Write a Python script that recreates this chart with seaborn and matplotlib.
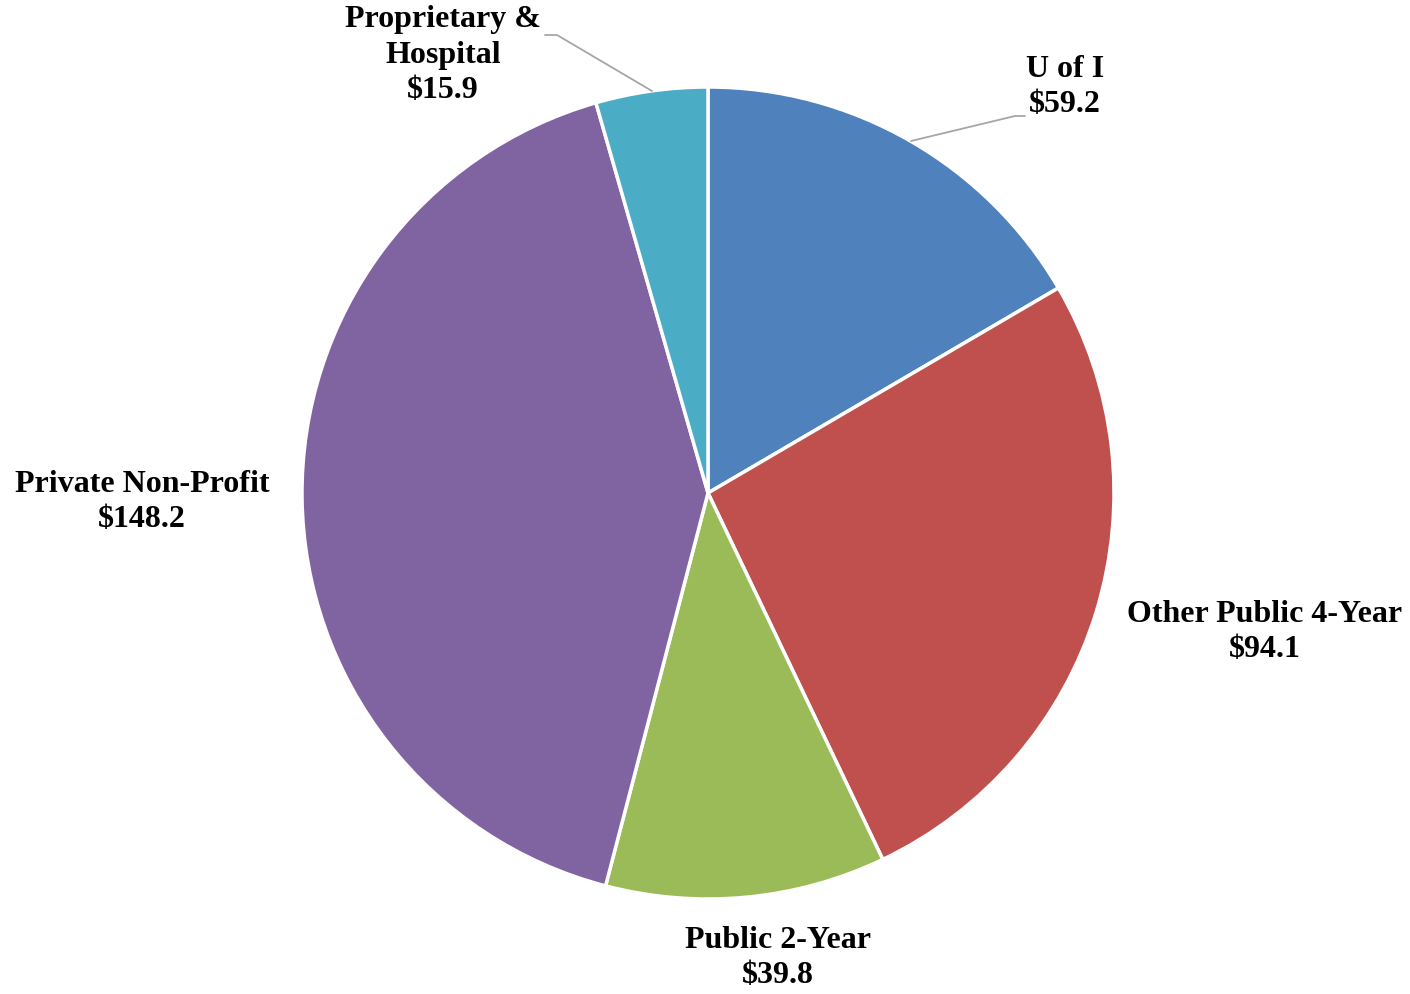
import matplotlib
matplotlib.use('Agg')
import matplotlib.pyplot as plt
import seaborn as sns
import numpy as np

# Data
categories = ['U of I', 'Other Public 4-Year', 'Public 2-Year', 'Private Non-Profit', 'Proprietary &\nHospital']
values = [59.2, 94.1, 39.8, 148.2, 15.9]
colors = ['#4F81BD', '#C0504D', '#9BBB59', '#8064A2', '#4BACC6']

sns.set_theme(style='white')
plt.rcParams['font.family'] = ['Liberation Serif', 'DejaVu Serif']

W, H = 1410, 994
fig = plt.figure(figsize=(W / 100, H / 100), dpi=100)
ax = fig.add_axes([0, 0, 1, 1])

cx, cy, r = 708, H - 493, 406
ax.pie(values, colors=colors, startangle=90, counterclock=False,
       center=(cx, cy), radius=r, frame=True,
       wedgeprops=dict(edgecolor='white', linewidth=2.5))
ax.set_xlim(0, W)
ax.set_ylim(0, H)
ax.set_aspect('equal')
ax.axis('off')

# label positions in pixel space (x, y from top)
label_pos = [(1065, 87), (1265, 632), (778, 958), (142, 502), (443, 55)]
for name, val, (lx, ly) in zip(categories, values, label_pos):
    ax.text(lx, H - ly, f'{name}\n${val:.1f}', ha='center', va='center',
            fontsize=23, fontweight='bold', color='black', linespacing=1.3)

# leader lines
ax.plot([911, 1015, 1025], [H - 141, H - 116, H - 116], color='#A6A6A6', lw=1.3)
ax.plot([652, 557, 545], [H - 91, H - 35, H - 35], color='#A6A6A6', lw=1.3)

fig.savefig('out.png', dpi=100, facecolor='white')
